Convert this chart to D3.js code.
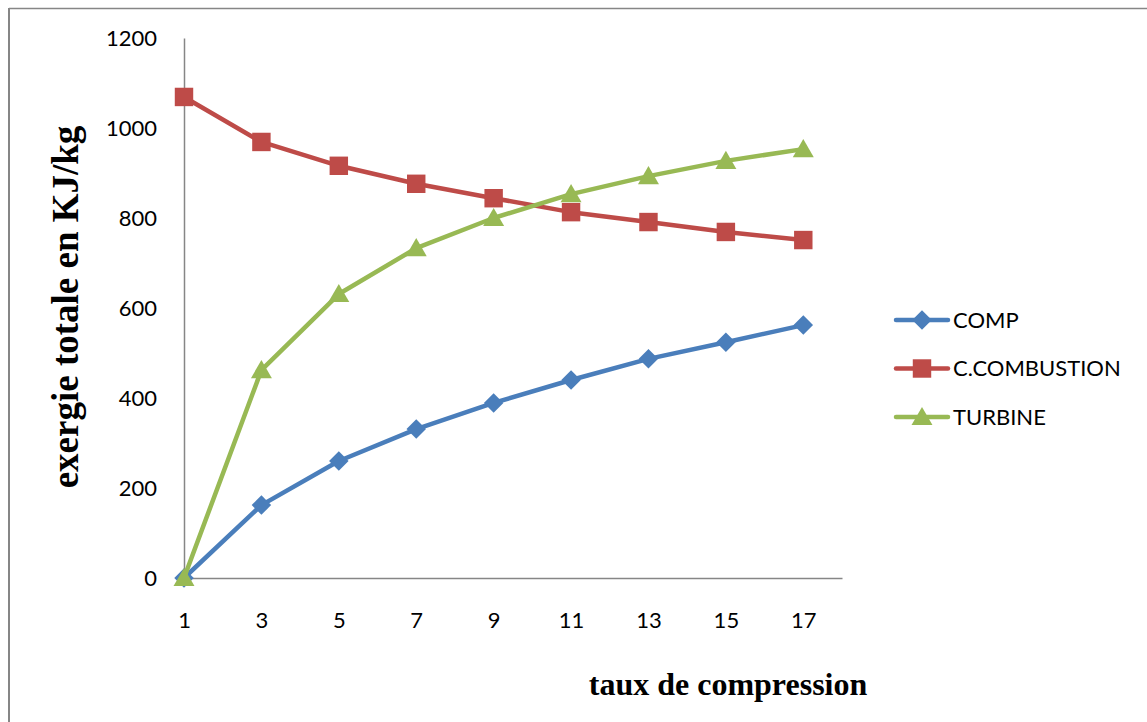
<!DOCTYPE html>
<html>
<head>
<meta charset="utf-8">
<script src="https://cdn.jsdelivr.net/npm/d3@7"></script>
<style>
  html, body { margin: 0; padding: 0; background: #fff; }
  svg { display: block; }
</style>
</head>
<body>
<svg id="chart" width="1147" height="722"></svg>
<script>
// Compression ratio (x) and total exergy per component (kJ/kg)
const ratios = [1, 3, 5, 7, 9, 11, 13, 15, 17];
const comp = [0, 162, 260, 331, 389, 440, 487, 524, 562];
const combustion = [1069, 969, 916, 876, 844, 813, 791, 769, 751];
const turbine = [0, 462, 631, 733, 800, 853, 893, 927, 953];
const seriesNames = ["COMP", "C.COMBUSTION", "TURBINE"];
const xTicks = [1, 3, 5, 7, 9, 11, 13, 15, 17];
const yTicks = [0, 200, 400, 600, 800, 1000, 1200];

const svg = d3.select("#chart");
const W = 1147, H = 722;

// outer frame (top and left edges visible)
svg.append("line").attr("x1", 9).attr("x2", W).attr("y1", 8.5).attr("y2", 8.5)
  .attr("stroke", "#868686").attr("stroke-width", 1.5);
svg.append("line").attr("x1", 9).attr("x2", 9).attr("y1", 8).attr("y2", H)
  .attr("stroke", "#868686").attr("stroke-width", 2);

const x = d3.scaleLinear().domain([1, 18]).range([184, 842]);
const y = d3.scaleLinear().domain([0, 1200]).range([578, 38]);

const tickFont = "Lato, 'Open Sans', sans-serif";
const serif = "'Liberation Serif', 'Times New Roman', serif";

// y axis
const yAxis = svg.append("g").attr("transform", "translate(184,0)")
  .call(d3.axisLeft(y).tickValues(yTicks).tickSize(0).tickPadding(27).tickFormat(d3.format("d")));
yAxis.select(".domain").attr("stroke", "#868686").attr("stroke-width", 1.5);
yAxis.selectAll("text").attr("font-family", tickFont).attr("font-size", 22).attr("fill", "#000");

// x axis
const xAxis = svg.append("g").attr("transform", "translate(0,578)")
  .call(d3.axisBottom(x).tickValues(xTicks).tickSize(0).tickPadding(34).tickFormat(d3.format("d")));
xAxis.select(".domain").attr("stroke", "#868686").attr("stroke-width", 1.5);
xAxis.selectAll("text").attr("font-family", tickFont).attr("font-size", 22).attr("fill", "#000");

// axis titles
svg.append("text")
  .attr("x", 728).attr("y", 695)
  .attr("text-anchor", "middle")
  .attr("font-family", serif)
  .attr("font-weight", "bold").attr("font-size", 32)
  .text("taux de compression");

svg.append("text")
  .attr("transform", "translate(78,307) rotate(-90)")
  .attr("text-anchor", "middle")
  .attr("font-family", serif)
  .attr("font-weight", "bold").attr("font-size", 37)
  .text("exergie totale en KJ/kg");

const series = [
  { name: seriesNames[0], values: comp, color: "#4A7EBB", symbol: d3.symbolDiamond, size: 190 },
  { name: seriesNames[1], values: combustion, color: "#BE4B48", symbol: d3.symbolSquare, size: 340 },
  { name: seriesNames[2], values: turbine, color: "#98B954", symbol: d3.symbolTriangle, size: 190 }
];

// diamond drawn as a square turned 45°
const markerPath = s => {
  if (s.symbol === d3.symbolDiamond) return d3.symbol().type(d3.symbolSquare).size(s.size)();
  return d3.symbol().type(s.symbol).size(s.size)();
};
const markerRot = s => s.symbol === d3.symbolDiamond ? 45 : 0;
const markerDy = s => s.symbol === d3.symbolTriangle ? 2 : 0;

const line = d3.line().x(d => x(d[0])).y(d => y(d[1]));

series.forEach(s => {
  const pts = ratios.map((r, i) => [r, s.values[i]]);
  const g = svg.append("g");
  g.append("path").datum(pts).attr("d", line)
    .attr("fill", "none").attr("stroke", s.color).attr("stroke-width", 4.5)
    .attr("stroke-linejoin", "round").attr("stroke-linecap", "round");
  g.selectAll("path.m").data(pts).join("path").attr("class", "m")
    .attr("d", markerPath(s))
    .attr("transform", d => `translate(${x(d[0])},${y(d[1]) + markerDy(s)}) rotate(${markerRot(s)})`)
    .attr("fill", s.color);
});

// legend
const legend = svg.append("g");
series.forEach((s, i) => {
  const ly = 320 + i * 48.5;
  legend.append("line").attr("x1", 896).attr("x2", 948).attr("y1", ly).attr("y2", ly)
    .attr("stroke", s.color).attr("stroke-width", 4.5).attr("stroke-linecap", "round");
  legend.append("path").attr("d", markerPath(s))
    .attr("transform", `translate(922,${ly + markerDy(s)}) rotate(${markerRot(s)})`)
    .attr("fill", s.color);
  legend.append("text").attr("x", 953).attr("y", ly).attr("dy", "0.35em")
    .attr("font-family", tickFont).attr("font-size", 22).attr("fill", "#000")
    .text(s.name);
});
</script>
</body>
</html>
